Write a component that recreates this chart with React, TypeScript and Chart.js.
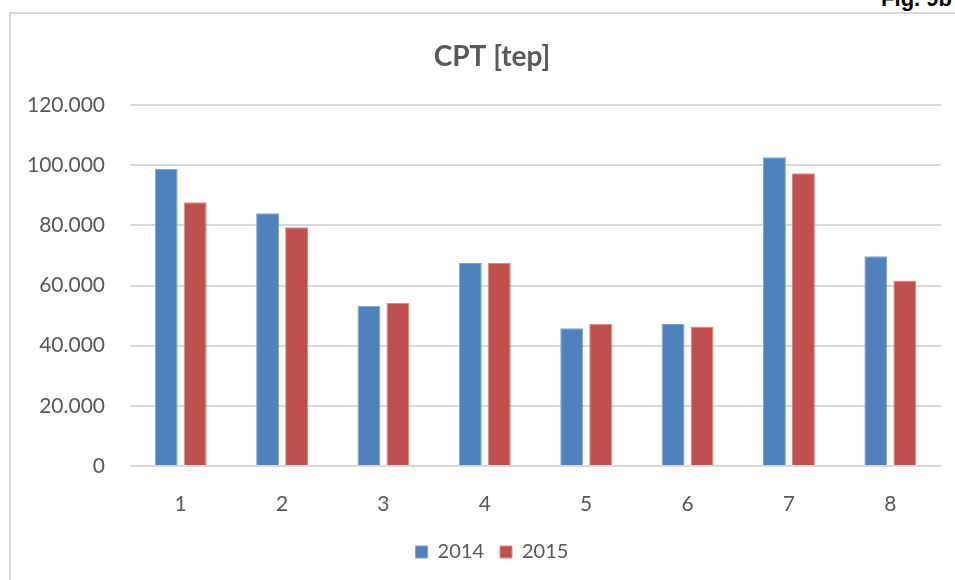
import React, { useEffect, useRef } from "react";
import { Chart, registerables } from "chart.js";

Chart.register(...registerables);

const categories = ["1", "2", "3", "4", "5", "6", "7", "8"];
const series2014 = [98700, 84000, 53300, 67500, 45800, 47200, 102600, 69700];
const series2015 = [87700, 79400, 54200, 67500, 47300, 46400, 97300, 61700];
const seriesNames = ["2014", "2015"];
const titleText = "CPT [tep]";
const figLabel = "Fig. 9b";

const TEXT = "#595959";
const FONT = "Lato, 'Open Sans', sans-serif";
const CW = 978;
const RIGHT_PAD = 4;
const PLOT_RIGHT = 941;

function fmt(v: number): string {
  if (v === 0) return "0";
  const s = Math.round(v).toString();
  return s.replace(/\B(?=(\d{3})+(?!\d))/g, ".");
}

export default function App() {
  const ref = useRef<HTMLCanvasElement | null>(null);

  useEffect(() => {
    if (!ref.current) return;
    const chart = new Chart(ref.current, {
      type: "bar",
      data: {
        labels: categories,
        datasets: [
          {
            label: seriesNames[0],
            data: series2014,
            backgroundColor: "#4f81bd",
            borderColor: "#7ea3d3",
            borderWidth: 1,
            categoryPercentage: 0.572,
            barPercentage: 0.79,
          },
          {
            label: seriesNames[1],
            data: series2015,
            backgroundColor: "#c0504d",
            borderColor: "#d98a88",
            borderWidth: 1,
            categoryPercentage: 0.572,
            barPercentage: 0.79,
          },
        ],
      },
      options: {
        responsive: false,
        animation: false,
        layout: { padding: { left: 10, right: RIGHT_PAD, top: 32.6, bottom: 8 } },
        plugins: {
          title: {
            display: true,
            text: titleText,
            color: TEXT,
            font: { family: FONT, size: 28, weight: "bold" },
            padding: { top: 7.6, bottom: 31.2 },
          },
          legend: {
            position: "bottom",
            labels: {
              color: TEXT,
              font: { family: FONT, size: 20 },
              boxWidth: 12,
              boxHeight: 12,
              padding: 16,
            },
          },
          tooltip: { enabled: false },
        },
        scales: {
          x: {
            grid: { display: false },
            border: { display: false },
            ticks: { color: TEXT, font: { family: FONT, size: 21 }, padding: 18 },
            afterFit: (scale: any) => {
              scale.height = 60;
            },
          },
          y: {
            min: 0,
            max: 120000,
            grid: { color: "#d9d9d9", lineWidth: 2, drawTicks: false },
            border: { display: false },
            ticks: {
              stepSize: 20000,
              color: TEXT,
              font: { family: FONT, size: 21 },
              padding: 25,
              callback: (v: any) => fmt(Number(v)),
            },
            afterFit: (scale: any) => {
              scale.width = 120;
            },
          },
          yRightSpace: {
            type: "linear",
            position: "right",
            display: true,
            min: 0,
            max: 120000,
            grid: { display: false, drawTicks: false },
            border: { display: false },
            ticks: { display: false },
            afterFit: (scale: any) => {
              scale.width = CW - PLOT_RIGHT - RIGHT_PAD;
            },
          },
        },
      },
    });
    return () => chart.destroy();
  }, []);

  return (
    <div
      style={{
        position: "fixed",
        left: 0,
        top: 0,
        width: 955,
        height: 580,
        overflow: "hidden",
        background: "#fff",
      }}
    >
      <div
        style={{
          position: "absolute",
          left: 9,
          top: 12,
          width: 1100,
          height: 1100,
          borderLeft: "2px solid #d9d9d9",
          borderTop: "2px solid #d9d9d9",
        }}
      />
      <div
        style={{
          position: "absolute",
          right: 3,
          top: -12,
          fontFamily: "'Liberation Sans', Arial, sans-serif",
          fontWeight: "bold",
          fontSize: 22,
          lineHeight: "22px",
          color: "#000",
          whiteSpace: "nowrap",
        }}
      >
        {figLabel}
      </div>
      <canvas
        ref={ref}
        width={CW}
        height={580}
        style={{ position: "absolute", left: 0, top: 0, width: CW, height: 580 }}
      />
    </div>
  );
}
